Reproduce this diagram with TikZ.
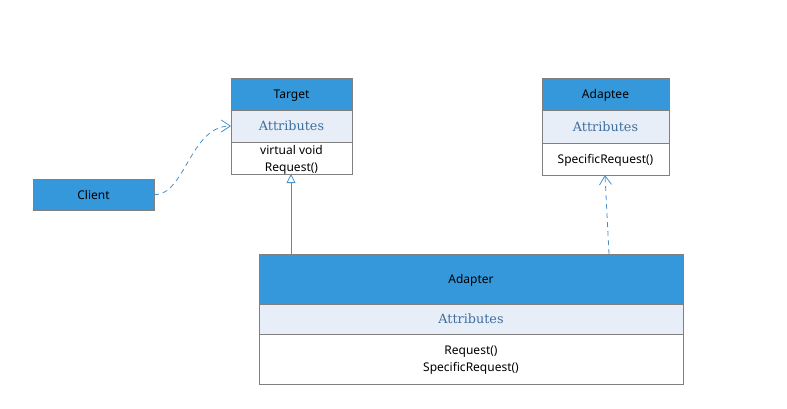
\documentclass[tikz,border=0pt]{standalone}
\usepackage{fontspec}
\setmainfont{Noto Sans}
\newfontfamily\attrfont{DejaVu Serif}
\usetikzlibrary{arrows.meta, positioning}

\definecolor{hdrblue}{HTML}{3498DB}
\definecolor{attrfill}{HTML}{E8EEF8}
\definecolor{attrtext}{HTML}{3D6E9E}
\definecolor{boxgray}{HTML}{808080}
\definecolor{linkblue}{HTML}{4A90C8}

\begin{document}
\begin{tikzpicture}[x=1pt, y=-1pt,
    every node/.style={inner sep=0pt, outer sep=0pt, font=\fontsize{12}{17}\selectfont},
    part/.style={draw=boxgray, line width=0.8pt, align=center},
    hdr/.style={part, fill=hdrblue, text depth=0pt},
    attr/.style={part, fill=attrfill, text=attrtext, font=\attrfont\fontsize{12.8}{15}\selectfont},
    meth/.style={part, fill=white, text depth=0pt},
    link/.style={linkblue, line width=0.8pt},
    dep/.style={link, dashed, dash pattern=on 5pt off 4pt, -{Straight Barb[length=9pt, width=12pt, line width=0.8pt]}},
    inherit/.style={link, -{Triangle[open, fill=white, length=9pt, width=9pt, line width=0.8pt]}}
  ]
    \useasboundingbox (0,0) rectangle (787,408);

    % Target
    \node[hdr, minimum width=121, minimum height=32, anchor=north] (target) at (291.5,78) {Target};
    \node[attr, minimum width=121, minimum height=32, below=0 of target] (targetattr) {Attributes};
    \node[meth, minimum width=121, minimum height=32, below=0 of targetattr] (targetmeth) {virtual void\\Request()};

    % Adaptee
    \node[hdr, minimum width=127, minimum height=32, anchor=north] (adaptee) at (605.5,78) {Adaptee};
    \node[attr, minimum width=127, minimum height=33, below=0 of adaptee] (adapteeattr) {Attributes};
    \node[meth, minimum width=127, minimum height=32, below=0 of adapteeattr] (adapteemeth) {SpecificRequest()};

    % Client
    \node[hdr, minimum width=121, minimum height=31] (client) at (93.5,194.5) {Client};

    % Adapter
    \node[hdr, minimum width=424, minimum height=50, anchor=north] (adapter) at (471,254) {Adapter};
    \node[attr, minimum width=424, minimum height=30, below=0 of adapter] (adapterattr) {Attributes};
    \node[meth, minimum width=424, minimum height=50, below=0 of adapterattr] (adaptermeth) {Request()\\SpecificRequest()};

    % links
    \coordinate (inhfoot) at (291,254);
    \coordinate (depfoot) at (609,254);
    \draw[inherit] (inhfoot) -- (inhfoot |- targetmeth.south);
    \draw[dep] (client.east) .. controls (185,196) and (190,126) .. (targetattr.west);
    \draw[dep] (depfoot) -- ([xshift=-0.5pt]adapteemeth.south);
\end{tikzpicture}
\end{document}
